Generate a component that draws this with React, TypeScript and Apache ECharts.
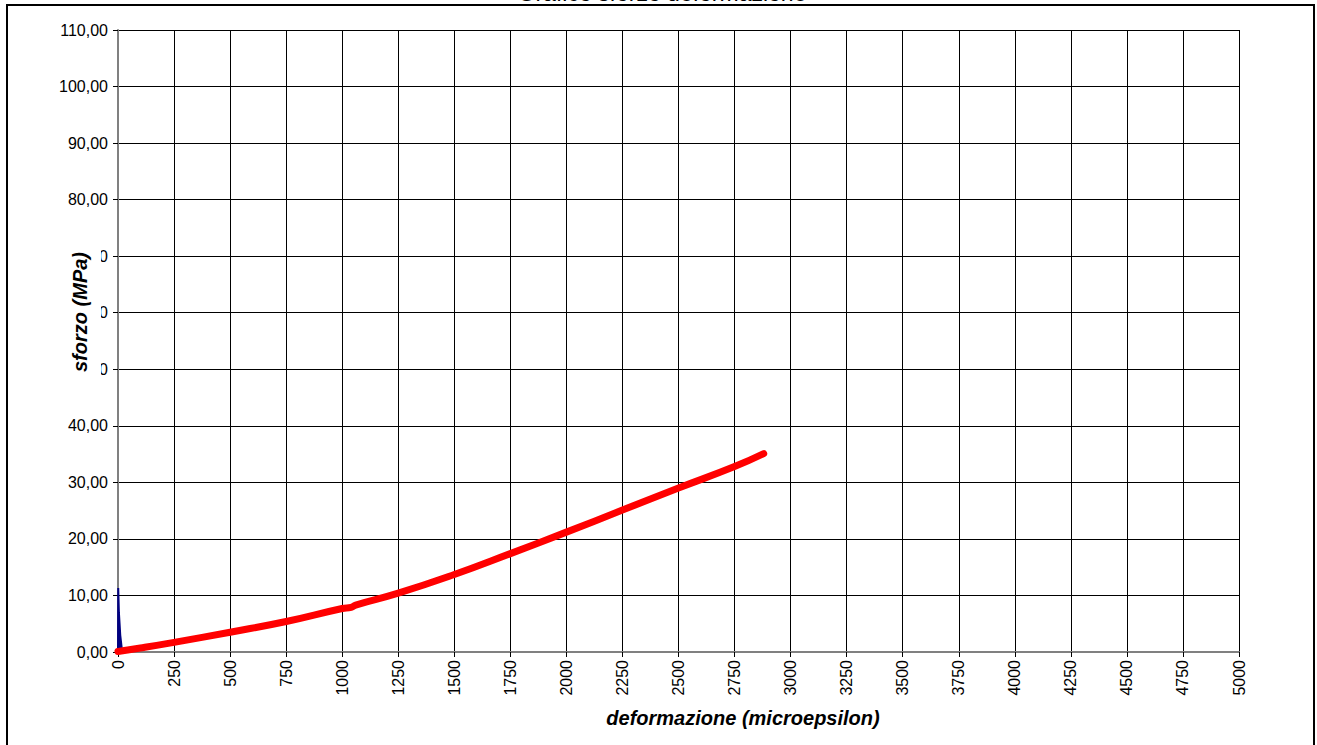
import React, { useEffect, useRef } from "react";
import * as echarts from "echarts";

const chartTitle = "Grafico sforzo deformazione";
const xAxisTitle = "deformazione (microepsilon)";
const yAxisTitle = "sforzo (MPa)";

// deformazione (microepsilon) vs sforzo (MPa)
const redStrain = [0, 100, 250, 500, 750, 1000, 1040, 1060, 1250, 1500, 1750, 2000, 2250, 2500, 2750, 2880];
const redStress = [0.1, 0.7, 1.7, 3.5, 5.4, 7.7, 7.9, 8.3, 10.4, 13.7, 17.4, 21.2, 25.1, 29.0, 32.8, 35.1];

const blueStrain = [0, 1, 4, 10, 18, 8, 2, 0];
const blueStress = [0, 11.3, 7, 3, 0.2, 0, 0, 0];

const FONT = "Arial, 'Liberation Sans', sans-serif";

export default function App() {
  const ref = useRef<HTMLDivElement>(null);
  useEffect(() => {
    if (!ref.current) return;
    const chart = echarts.init(ref.current, null, { renderer: "svg" });
    chart.setOption({
      animation: false,
      backgroundColor: "#fff",
      grid: { left: 118, right: 78, top: 30, bottom: 93, containLabel: false },
      xAxis: {
        type: "value",
        min: 0,
        max: 5000,
        interval: 250,
        axisLine: { show: true, onZero: false, lineStyle: { color: "#808080", width: 2 } },
        axisTick: { show: true, length: 5, lineStyle: { color: "#000" } },
        splitLine: { show: true, lineStyle: { color: "#000", width: 1 } },
        axisLabel: {
          rotate: 90,
          fontSize: 16,
          color: "#000",
          fontFamily: FONT,
          margin: 8,
          formatter: (v: number) => String(v),
        },
      },
      yAxis: {
        type: "value",
        min: 0,
        max: 110,
        interval: 10,
        axisLine: { show: true, onZero: false, lineStyle: { color: "#808080", width: 2 } },
        axisTick: { show: true, length: 5, lineStyle: { color: "#000" } },
        splitLine: { show: true, lineStyle: { color: "#000", width: 1 } },
        axisLabel: {
          fontSize: 16,
          color: "#000",
          fontFamily: FONT,
          margin: 10,
          formatter: (v: number) => v.toFixed(2).replace(".", ","),
        },
      },
      series: [
        {
          type: "line",
          data: blueStrain.map((x, i) => [x, blueStress[i]]),
          showSymbol: false,
          lineStyle: { color: "#000080", width: 2 },
          areaStyle: { color: "#000080", opacity: 1, origin: "start" },
          z: 3,
        },
        {
          type: "line",
          data: redStrain.map((x, i) => [x, redStress[i]]),
          showSymbol: false,
          smooth: true,
          lineStyle: { color: "#ff0000", width: 7, cap: "round", join: "round" },
          z: 4,
        },
      ],
      graphic: [
        {
          type: "rect",
          shape: { x: 7, y: 5, width: 1307, height: 760 },
          style: { fill: "none", stroke: "#000", lineWidth: 2 },
          z: 1,
          silent: true,
        },
        {
          type: "text",
          x: 662,
          y: -7,
          style: {
            text: chartTitle,
            font: `23px ${FONT}`,
            fill: "#000",
            align: "center",
            verticalAlign: "middle",
          },
          z: 10,
        },
        {
          type: "text",
          x: 80,
          y: 312,
          rotation: Math.PI / 2,
          style: {
            text: yAxisTitle,
            font: `italic bold 20px ${FONT}`,
            fill: "#000",
            align: "center",
            verticalAlign: "middle",
            backgroundColor: "#fff",
            padding: [11, 8],
          },
          z: 10,
        },
        {
          type: "text",
          x: 743,
          y: 718,
          style: {
            text: xAxisTitle,
            font: `italic bold 20px ${FONT}`,
            fill: "#000",
            align: "center",
            verticalAlign: "middle",
          },
          z: 10,
        },
      ],
    });
    return () => chart.dispose();
  }, []);
  return (
    <div
      ref={ref}
      style={{ position: "fixed", left: 0, top: 0, width: 1317, height: 745 }}
    />
  );
}
